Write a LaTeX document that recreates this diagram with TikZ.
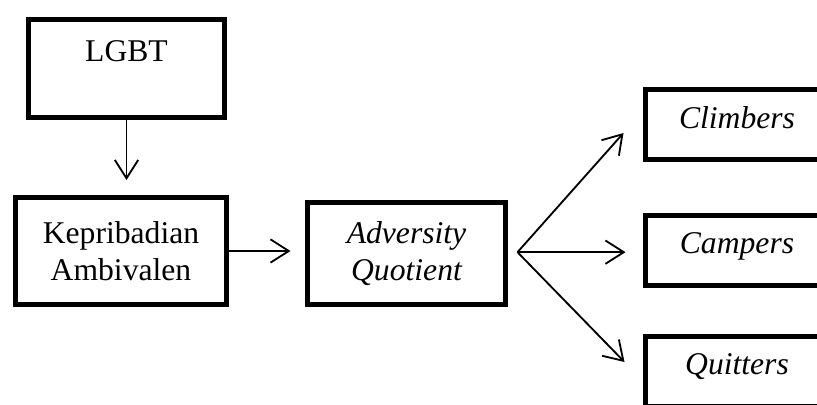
\documentclass[tikz,border=0pt]{standalone}
\usepackage{fontspec}
\setmainfont{Liberation Serif}
\usetikzlibrary{arrows.meta}
\begin{document}
\begin{tikzpicture}[x=0.3mm,y=-0.3mm,
  box/.style={draw,line width=1.5mm,align=center,inner sep=0pt,
    font=\fontsize{27}{32}\selectfont},
  outbox/.style={box,minimum width=54.9mm,minimum height=21mm,text height=6.4mm,text depth=4.2mm,
    font=\fontsize{27}{32}\selectfont\itshape},
  arr/.style={line width=0.55mm,-{Straight Barb[length=5.5mm,width=7mm]}}]
\clip (0,0) rectangle (817,404);
\node[box,minimum width=58.8mm,minimum height=29.4mm] (lgbt) at (126.5,68.5) {LGBT\\[-2pt]~};
\node[box,minimum width=63.3mm,minimum height=32.1mm] (kep) at (121,251) {Kepribadian\\Ambivalen};
\node[box,minimum width=59.4mm,minimum height=30.6mm] (aq) at (406.5,253.5) {\itshape Adversity\\\itshape Quotient};
\node[outbox] (climb) at (737,124.5) {Climbers};
\node[outbox] (camp) at (737,250) {Campers};
\node[outbox] (quit) at (737,371) {Quitters};
% arrows
\draw[arr,shorten >=4.5mm] (lgbt.south) -- (lgbt.south |- kep.north);
\draw[arr,shorten >=4.35mm] (kep.east) -- (kep.east -| aq.west);
\coordinate (fan) at ([xshift=2.85mm,yshift=0.4mm]aq.east);
\coordinate (climbend) at ([xshift=-5.85mm,yshift=-2.55mm]climb.west);
\coordinate (quitend) at ([xshift=-5.55mm,yshift=2.7mm]quit.west);
\draw[arr] (fan) -- (climbend);
\draw[arr,shorten >=5.25mm] (fan) -- (fan -| camp.west);
\draw[arr] (fan) -- (quitend);
\end{tikzpicture}
\end{document}
